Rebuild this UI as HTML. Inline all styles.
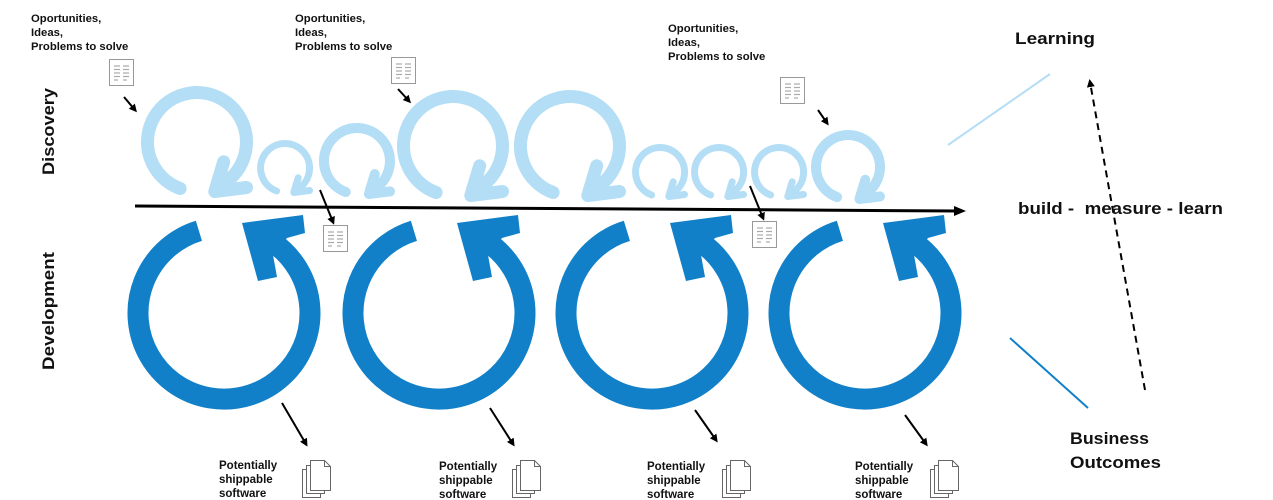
<!DOCTYPE html>
<html><head><meta charset="utf-8"><style>
html,body{margin:0;padding:0;background:#fff;}
svg{display:block;}
text{font-family:"Liberation Sans",sans-serif;font-weight:bold;fill:#111;}
</style></head><body>
<svg width="1273" height="500" viewBox="0 0 1273 500" xmlns="http://www.w3.org/2000/svg">
<defs>
<marker id="ah" markerWidth="8" markerHeight="8" refX="5" refY="4" orient="auto" markerUnits="userSpaceOnUse"><path d="M0,0 L8,4 L0,8 Z" fill="#000"/></marker>
<marker id="ah2" markerWidth="12" markerHeight="10" refX="6" refY="5" orient="auto" markerUnits="userSpaceOnUse"><path d="M0,0 L12,5 L0,10 Z" fill="#000"/></marker>
<g id="doc"><rect x="0.5" y="0.5" width="24" height="26" fill="#fff" stroke="#999"/>
<g stroke="#aaa" stroke-width="1.2"><line x1="5" y1="7" x2="11" y2="7"/><line x1="5" y1="10.5" x2="11" y2="10.5"/><line x1="5" y1="14" x2="11" y2="14"/><line x1="5" y1="17.5" x2="11" y2="17.5"/><line x1="5" y1="21" x2="9" y2="21"/>
<line x1="14" y1="7" x2="20" y2="7"/><line x1="14" y1="10.5" x2="20" y2="10.5"/><line x1="14" y1="14" x2="20" y2="14"/><line x1="14" y1="17.5" x2="20" y2="17.5"/><line x1="14" y1="21" x2="18" y2="21"/></g></g>
<g id="mdoc" fill="#fff" stroke="#666" stroke-width="1">
<path d="M0.5,10.5 h18 v28 h-18 z"/><path d="M4.5,6.5 h18 v28 h-18 z"/><path d="M8.5,1.5 h14 l6,6 v24 h-20 z"/><path d="M22.5,1.5 v6 h6" fill="none"/></g>
<g id="dl"><path d="M-25.1,-82.2 A86,86 0 1 0 49.3,-70.4" fill="none" stroke="#1180c8" stroke-width="21"/>
<polygon points="18,-90 79,-98 81,-80 63,-75 49,-58 53,-36 34,-32" fill="#1180c8"/></g>
</defs>

<g fill="none" stroke="#b3def5" stroke-linecap="round" stroke-linejoin="round">
<g stroke-width="13">
<path d="M180.1,188.5 A49.5,49.5 0 1 1 225.4,182.5"/><polyline points="223.7,161.8 214.8,191.5 246.5,187.5"/>
<path d="M436.1,192.5 A49.5,49.5 0 1 1 481.4,186.5"/><polyline points="479.7,165.8 470.8,195.5 502.5,191.5"/>
<path d="M553.1,192.5 A49.5,49.5 0 1 1 598.4,186.5"/><polyline points="596.7,165.8 587.8,195.5 619.5,191.5"/>
</g>
<g stroke-width="7">
<path d="M276.6,191 A24.5,24.5 0 1 1 299.1,188.1"/><polyline points="298.2,177.8 293.8,192.5 309.5,190.5"/>
<path d="M651.6,195 A24.5,24.5 0 1 1 674.1,192.1"/><polyline points="673.2,181.8 668.8,196.5 684.5,194.5"/>
<path d="M710.6,195 A24.5,24.5 0 1 1 733.1,192.1"/><polyline points="732.2,181.8 727.8,196.5 743.5,194.5"/>
<path d="M770.6,195 A24.5,24.5 0 1 1 793.1,192.1"/><polyline points="792.2,181.8 787.8,196.5 803.5,194.5"/>
</g>
<g stroke-width="10">
<path d="M345.7,192 A33,33 0 1 1 375.9,188"/><polyline points="374.8,174.2 368.9,194 390,191.4"/>
<path d="M837.1,197.1 A32,32 0 1 1 866.4,193.2"/><polyline points="865.3,179.8 859.5,199 880,196.4"/>
</g>
</g>

<use href="#dl" transform="translate(224,313)"/>
<use href="#dl" transform="translate(439,313)"/>
<use href="#dl" transform="translate(652,313)"/>
<use href="#dl" transform="translate(865,313)"/>

<line x1="135" y1="206" x2="960" y2="211" stroke="#000" stroke-width="3" marker-end="url(#ah2)"/>

<use href="#doc" x="109" y="59"/>
<use href="#doc" x="391" y="57"/>
<use href="#doc" x="780" y="77"/>
<use href="#doc" x="323" y="225"/>
<use href="#doc" x="752" y="221"/>
<use href="#mdoc" x="302" y="459"/>
<use href="#mdoc" x="512" y="459"/>
<use href="#mdoc" x="722" y="459"/>
<use href="#mdoc" x="930" y="459"/>

<g stroke="#000" stroke-width="2" marker-end="url(#ah)">
<line x1="124" y1="97" x2="135" y2="110"/>
<line x1="398" y1="89" x2="409" y2="101"/>
<line x1="818" y1="110" x2="827" y2="123"/>
<line x1="320" y1="190" x2="333" y2="222"/>
<line x1="750" y1="186" x2="763" y2="218"/>
<line x1="282" y1="403" x2="306" y2="444"/>
<line x1="490" y1="408" x2="513" y2="444"/>
<line x1="695" y1="410" x2="716" y2="440"/>
<line x1="905" y1="415" x2="926" y2="444"/>
</g>

<line x1="948" y1="145" x2="1050" y2="74" stroke="#b3def5" stroke-width="2"/>
<line x1="1010" y1="338" x2="1088" y2="408" stroke="#1180c8" stroke-width="2"/>
<line x1="1145" y1="390" x2="1090" y2="82" stroke="#000" stroke-width="2" stroke-dasharray="7,5" marker-end="url(#ah)"/>

<g font-size="11.3">
<text x="31" y="22">Oportunities,</text><text x="31" y="36">Ideas,</text><text x="31" y="50">Problems to solve</text>
<text x="295" y="22">Oportunities,</text><text x="295" y="36">Ideas,</text><text x="295" y="50">Problems to solve</text>
<text x="668" y="32">Oportunities,</text><text x="668" y="46">Ideas,</text><text x="668" y="60">Problems to solve</text>
</g>
<g font-size="11.5">
<text x="219" y="469">Potentially</text><text x="219" y="483">shippable</text><text x="219" y="497">software</text>
<text x="439" y="470">Potentially</text><text x="439" y="484">shippable</text><text x="439" y="498">software</text>
<text x="647" y="470">Potentially</text><text x="647" y="484">shippable</text><text x="647" y="498">software</text>
<text x="855" y="470">Potentially</text><text x="855" y="484">shippable</text><text x="855" y="498">software</text>
</g>
<text transform="translate(54,175) rotate(-90)" font-size="17" textLength="87" lengthAdjust="spacingAndGlyphs">Discovery</text>
<text transform="translate(54,370) rotate(-90)" font-size="17" textLength="118" lengthAdjust="spacingAndGlyphs">Development</text>
<g font-size="17">
<text x="1015" y="44" textLength="80" lengthAdjust="spacingAndGlyphs">Learning</text>
<text x="1018" y="214" xml:space="preserve" textLength="205" lengthAdjust="spacingAndGlyphs">build -  measure - learn</text>
<text x="1070" y="444" textLength="79" lengthAdjust="spacingAndGlyphs">Business</text>
<text x="1070" y="468" textLength="91" lengthAdjust="spacingAndGlyphs">Outcomes</text>
</g>
</svg>
</body></html>
